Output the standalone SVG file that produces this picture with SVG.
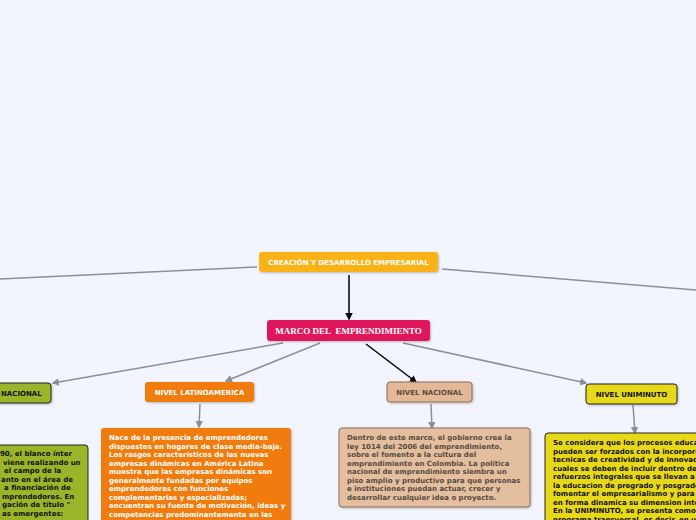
<svg xmlns="http://www.w3.org/2000/svg" width="696" height="520" viewBox="0 0 696 520">
<style>
.t{font-family:"DejaVu Sans",Verdana,sans-serif;font-weight:bold;font-size:7px}
.lbl{font-family:"DejaVu Sans",Verdana,sans-serif;font-weight:bold;font-size:7px;text-anchor:middle}
.g{stroke:#8e8e96;stroke-width:1.5;fill:none}
.k{stroke:#000;stroke-width:1.5;fill:none}
</style>
<defs>
<marker id="ag" viewBox="0 0 10 10" refX="8" refY="5" markerWidth="5" markerHeight="5" orient="auto"><path d="M0,0 L10,5 L0,10 z" fill="#8e8e96"/></marker>
<marker id="ak" viewBox="0 0 10 10" refX="8" refY="5" markerWidth="5" markerHeight="5" orient="auto"><path d="M0,0 L10,5 L0,10 z" fill="#000"/></marker>
<filter id="sh" x="-10%" y="-20%" width="120%" height="150%"><feDropShadow dx="1" dy="1" stdDeviation="0.8" flood-color="#000" flood-opacity="0.25"/></filter>
</defs>
<rect width="696" height="520" fill="#f2f5fe"/>
<g id="connectors">
<line class="g" x1="257" y1="267" x2="0" y2="279"/>
<line class="g" x1="442" y1="269" x2="696" y2="290"/>
<line class="k" x1="349" y1="275" x2="349" y2="319" marker-end="url(#ak)"/>
<line class="g" x1="283" y1="343" x2="53" y2="383" marker-end="url(#ag)"/>
<line class="g" x1="320" y1="343" x2="226" y2="381" marker-end="url(#ag)"/>
<line class="k" x1="366" y1="344" x2="416" y2="382" marker-end="url(#ak)"/>
<line class="g" x1="403" y1="343" x2="586" y2="383" marker-end="url(#ag)"/>
<line class="g" x1="200" y1="404" x2="199" y2="427" marker-end="url(#ag)"/>
<line class="g" x1="431" y1="404" x2="432" y2="428" marker-end="url(#ag)"/>
<line class="g" x1="633" y1="405" x2="635" y2="433" marker-end="url(#ag)"/>
</g>
<g id="root">
<rect x="259" y="252" width="179" height="20" rx="3" fill="#fbb216" filter="url(#sh)"/>
<text class="lbl" x="348.5" y="265" fill="#fff">CREACIÓN Y DESARROLLO EMPRESARIAL</text>
</g>
<g id="marco">
<rect x="267" y="320" width="163" height="21" rx="3" fill="#e0185c" filter="url(#sh)"/>
<text x="348.5" y="334" fill="#fff" font-family="'Liberation Serif','Times New Roman',serif" font-weight="bold" font-size="9" text-anchor="middle">MARCO DEL&#160; EMPRENDIMIENTO</text>
</g>
<g id="nivel-internacional">
<rect x="-50" y="383" width="101" height="20" rx="3" fill="#9bb52a" stroke="#222" stroke-width="1" filter="url(#sh)"/>
<text class="t" x="1" y="396" fill="#111">NACIONAL</text>
</g>
<g id="nivel-latinoamerica">
<rect x="145" y="382" width="109" height="20" rx="3" fill="#f07b0e" filter="url(#sh)"/>
<text class="lbl" x="199.5" y="395" fill="#fff">NIVEL LATINOAMERICA</text>
</g>
<g id="nivel-nacional">
<rect x="387" y="382" width="85" height="20" rx="3" fill="#e3b896" stroke="#8a6d58" stroke-width="1" filter="url(#sh)"/>
<text class="lbl" x="429.5" y="395" fill="#5a4a3e">NIVEL NACIONAL</text>
</g>
<g id="nivel-uniminuto">
<rect x="586" y="384" width="91" height="20" rx="3" fill="#e8d81a" stroke="#222" stroke-width="1" filter="url(#sh)"/>
<text class="lbl" x="631.5" y="397" fill="#111">NIVEL UNIMINUTO</text>
</g>
<g id="desc-internacional">
<rect x="-60" y="445" width="148" height="90" rx="3" fill="#9bb52a" stroke="#222" stroke-width="1"/>
<g class="t" fill="#111">
<text x="0" y="456">90, el blanco ínter</text>
<text x="3" y="465">viene realizando un</text>
<text x="4" y="473">el campo de la</text>
<text x="1" y="482">anto en el área de</text>
<text x="4" y="490">a financiación de</text>
<text x="2" y="499">mprendedores. En</text>
<text x="2" y="507">gación de título "</text>
<text x="2" y="516">as emergentes:</text>
</g>
</g>
<g id="desc-latinoamerica">
<rect x="101" y="428" width="190" height="110" rx="3" fill="#f07b0e" filter="url(#sh)"/>
<g class="t" fill="#fff">
<text x="109" y="440">Nace de la presencia de emprendedores</text>
<text x="109" y="449">dispuestos en hogares de clase media-baja.</text>
<text x="109" y="457">Los rasgos característicos de las nuevas</text>
<text x="109" y="466">empresas dinámicas en América Latina</text>
<text x="109" y="474">muestra que las empresas dinámicas son</text>
<text x="109" y="483">generalmente fundadas por equipos</text>
<text x="109" y="491">emprendedores con funciones</text>
<text x="109" y="500">complementarias y especializadas;</text>
<text x="109" y="508">encuentran su fuente de motivación, ideas y</text>
<text x="109" y="517">competencias predominantemente en las</text>
</g>
</g>
<g id="desc-nacional">
<rect x="339" y="428" width="191" height="79" rx="3" fill="#e3be9f" stroke="#8a6d58" stroke-width="1" filter="url(#sh)"/>
<g class="t" fill="#5a4a3e">
<text x="347" y="440">Dentro de este marco, el gobierno crea la</text>
<text x="347" y="449">ley 1014 del 2006 del emprendimiento,</text>
<text x="347" y="457">sobre el fomento a la cultura del</text>
<text x="347" y="466">emprendimiento en Colombia. La política</text>
<text x="347" y="474">nacional de emprendimiento siembra un</text>
<text x="347" y="483">piso amplio y productivo para que personas</text>
<text x="347" y="491">e instituciones puedan actuar, crecer y</text>
<text x="347" y="500">desarrollar cualquier idea o proyecto.</text>
</g>
</g>
<g id="desc-uniminuto">
<rect x="545" y="433" width="170" height="100" rx="3" fill="#e8d81a" stroke="#222" stroke-width="1"/>
<g class="t" fill="#111">
<text x="553" y="445">Se considera que los procesos educa</text>
<text x="553" y="454">pueden ser forzados con la incorpora</text>
<text x="553" y="462">tecnicas de creatividad y de innovac</text>
<text x="553" y="471">cuales se deben de incluir dentro de</text>
<text x="553" y="479">refuerzos integrales que se llevan a</text>
<text x="553" y="488">la educacion de pregrado y posgrado</text>
<text x="553" y="496">fomentar el empresarialismo y para</text>
<text x="553" y="505">en forma dinamica su dimension inte</text>
<text x="553" y="513">En la UNIMINUTO, se presenta como</text>
<text x="553" y="522">programa transversal, es decir, en u</text>
</g>
</g>
</svg>
